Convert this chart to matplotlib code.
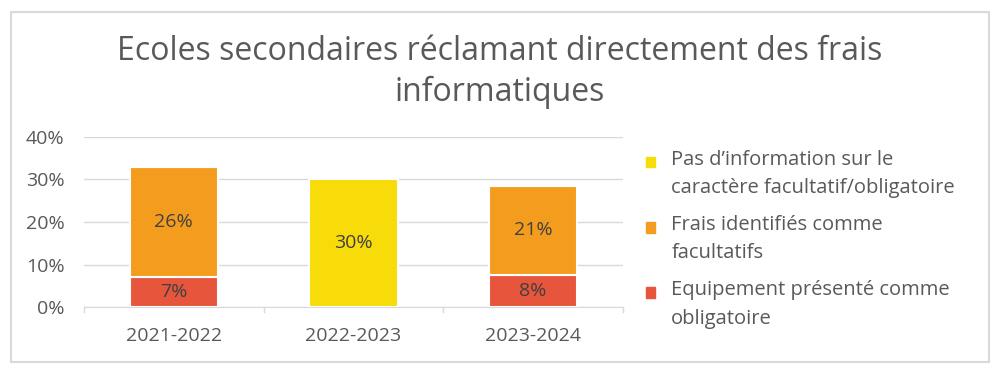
import numpy as np
import matplotlib
matplotlib.use("Agg")
import matplotlib.pyplot as plt
from matplotlib.patches import Patch, Rectangle
from matplotlib.legend_handler import HandlerPatch

plt.rcParams["font.family"] = ["Open Sans", "DejaVu Sans"]

years = ["2021-2022", "2022-2023", "2023-2024"]
obligatoire = [7, 0, 7.5]
facultatif = [26, 0, 21]
sans_info = [0, 30, 0]
series_names = [
    "Pas d\u2019information sur le\ncaract\u00e8re facultatif/obligatoire",
    "Frais identifi\u00e9s comme\nfacultatifs",
    "Equipement pr\u00e9sent\u00e9 comme\nobligatoire",
]
title = "Ecoles secondaires r\u00e9clamant directement des frais\ninformatiques"

RED = "#E8553D"
ORANGE = "#F49C1E"
YELLOW = "#F8DC0A"
TXT = "#595959"
GRID = "#D9D9D9"


def top_square(legend, orig_handle, xdescent, ydescent, width, height, fontsize):
    # put the marker next to the first line of a two-line label
    return Rectangle((-xdescent, -ydescent + 8.6), width, height)


fig = plt.figure(figsize=(10, 3.81), dpi=100)
ax = fig.add_axes([0.084, 0.194, 0.539, 0.447])

x = np.arange(len(years))
w = 0.49
red = np.array(obligatoire, dtype=float)
ora = np.array(facultatif, dtype=float)
yel = np.array(sans_info, dtype=float)

b1 = ax.bar(x, red, w, color=RED, edgecolor="white", linewidth=1.5, zorder=3)
b2 = ax.bar(x, ora, w, bottom=red, color=ORANGE, edgecolor="white", linewidth=1.5, zorder=3)
b3 = ax.bar(x, yel, w, bottom=red + ora, color=YELLOW, edgecolor="white", linewidth=1.5, zorder=3)

for bars in (b1, b2, b3):
    labels = [f"{int(v + 0.5)}%" if v > 0 else "" for v in bars.datavalues]
    ax.bar_label(bars, labels=labels, label_type="center", fontsize=14, color="#404040")

ax.set_xlim(-0.5, 2.5)
ax.set_ylim(0, 40)
ax.set_yticks([0, 10, 20, 30, 40])
ax.set_yticklabels(["0%", "10%", "20%", "30%", "40%"])
ax.set_xticks(x)
ax.set_xticklabels(years)
ax.tick_params(axis="both", length=0, labelsize=14, labelcolor=TXT)
ax.tick_params(axis="y", pad=14)
ax.tick_params(axis="x", pad=14)
ax.grid(axis="y", color=GRID, lw=1, zorder=0)
for s in ("top", "right", "left"):
    ax.spines[s].set_visible(False)
ax.spines["bottom"].set_color(GRID)
# small separators between categories
for xs in [-0.5, 0.5, 1.5, 2.5]:
    ax.plot([xs, xs], [0, -1.2], color=GRID, lw=1, clip_on=False)

handles = [Patch(color=YELLOW), Patch(color=ORANGE), Patch(color=RED)]
leg = fig.legend(handles, series_names, loc="upper left", bbox_to_anchor=(0.628, 0.655),
                 frameon=False, fontsize=14.5, handlelength=0.45, handleheight=0.45,
                 handletextpad=0.8, labelspacing=0.85, labelcolor=TXT,
                 handler_map={Patch: HandlerPatch(patch_func=top_square)})
for t in leg.get_texts():
    t.set_linespacing(1.55)

fig.text(0.5, 0.81, title, ha="center", va="center", fontsize=23, color=TXT,
         linespacing=1.3)

fig.add_artist(Rectangle((0.011, 0.05), 0.978, 0.918, transform=fig.transFigure,
                         fill=False, edgecolor=GRID, lw=1.5))

fig.savefig("out.png", dpi=100)
